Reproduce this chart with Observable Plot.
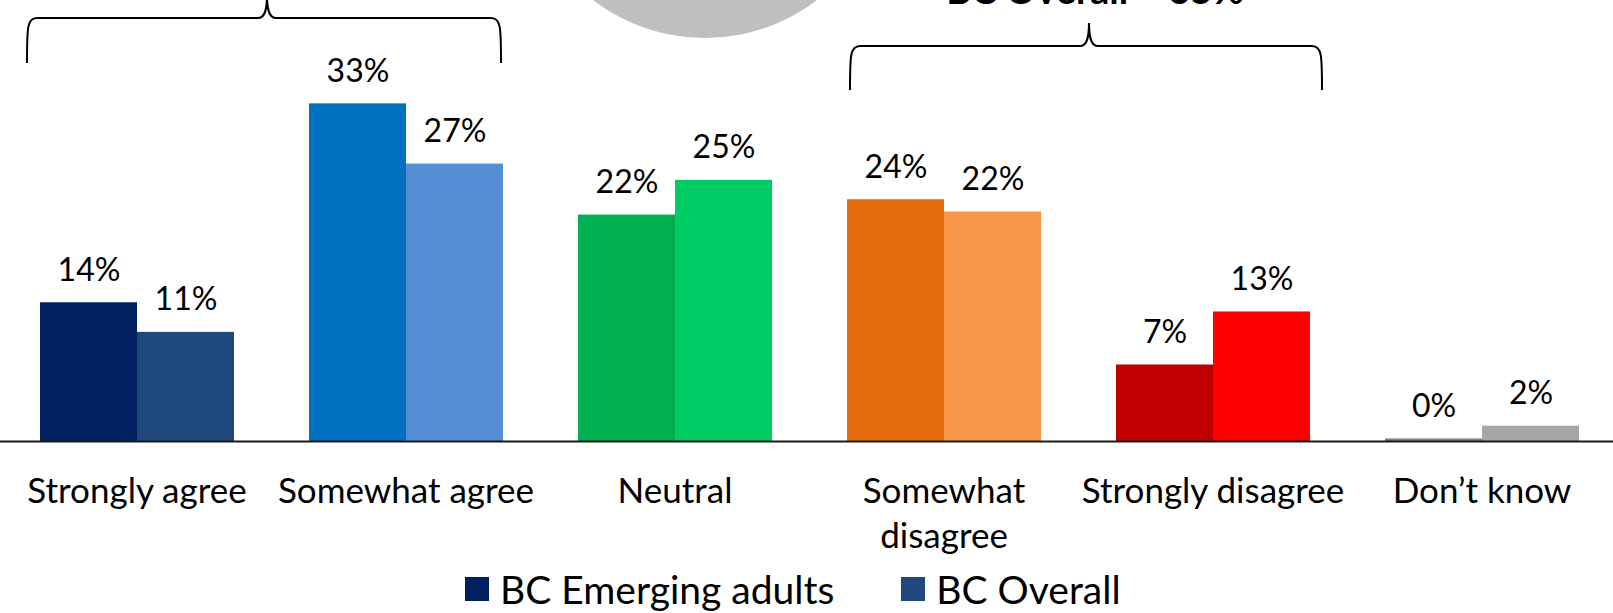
<!DOCTYPE html>
<html>
<head>
<meta charset="utf-8">
<script src="https://cdn.jsdelivr.net/npm/d3@7"></script>
<script src="https://cdn.jsdelivr.net/npm/@observablehq/plot@0.6"></script>
<style>
  html, body { margin: 0; padding: 0; background: #fff; overflow: hidden; }
  body { width: 1613px; height: 613px; font-family: Lato, "Open Sans", sans-serif; }
  #chart svg { display: block; overflow: visible; }
  #legend { height: 48px; display: flex; align-items: center; padding-left: 465px; font-size: 39px; color: #000; }
  .item { display: flex; align-items: center; }
  .sw { width: 24px; height: 24px; margin-right: 11px; }
</style>
</head>
<body>
<div id="chart"></div>
<div id="legend"></div>
<script>
// ---- data ----
const categories = ["Strongly agree", "Somewhat agree", "Neutral", "Somewhat disagree", "Strongly disagree", "Don’t know"];
const axisLabels = ["Strongly agree", "Somewhat agree", "Neutral", "Somewhat\ndisagree", "Strongly disagree", "Don’t know"];
const seriesNames = ["BC Emerging adults", "BC Overall"];
const emergingValues = [13.6, 33.1, 22.2, 23.7, 7.5, 0.25];
const overallValues  = [10.7, 27.2, 25.6, 22.5, 12.7, 1.5];
const emergingLabels = ["14%", "33%", "22%", "24%", "7%", "0%"];
const overallLabels  = ["11%", "27%", "25%", "22%", "13%", "2%"];
const emergingColors = ["#002060", "#0070C0", "#00B050", "#E46C0A", "#C00000", "#808080"];
const overallColors  = ["#1F497D", "#558ED5", "#00CC66", "#F79646", "#FF0000", "#A6A6A6"];
const legendColors = ["#002060", "#1F497D"];
const bracketNote = "BC Overall = 35%";

const rows = [];
categories.forEach((c, i) => {
  rows.push({category: c, series: seriesNames[0], value: emergingValues[i], label: emergingLabels[i], color: emergingColors[i]});
  rows.push({category: c, series: seriesNames[1], value: overallValues[i], label: overallLabels[i], color: overallColors[i]});
});
const axisLabelOf = new Map(categories.map((c, i) => [c, axisLabels[i]]));

const W = 1613, H = 565;
const plot = Plot.plot({
  width: W,
  height: H,
  marginLeft: 37,
  marginRight: 31,
  marginTop: 33,
  marginBottom: 124,
  style: {fontFamily: "Lato, 'Open Sans', sans-serif", color: "#000", background: "transparent", overflow: "visible"},
  fx: {domain: categories, paddingInner: 0.2735, paddingOuter: 0, label: null},
  x: {domain: seriesNames, padding: 0, axis: null},
  y: {domain: [0, 40], axis: null},
  color: {type: "identity"},
  marks: [
    Plot.barY(rows, {fx: "category", x: "series", y: "value", fill: "color"}),
    Plot.text(rows, {fx: "category", x: "series", y: "value", text: "label", dy: -22, lineAnchor: "bottom", fontSize: 32, fill: "#000"}),
    Plot.axisFx({anchor: "bottom", tickSize: 0, tickPadding: 29, fontSize: 35, lineHeight: 1.3, tickFormat: d => axisLabelOf.get(d), label: null})
  ]
});
document.getElementById("chart").appendChild(plot);

// ---- annotations: baseline, circle, braces, note ----
const fx = plot.scale("fx");
const y = plot.scale("y");
const bw = fx.bandwidth;
const svg = d3.select(plot);
const deco = svg.insert("g", ":first-child");
deco.append("circle").attr("cx", 705).attr("cy", -146).attr("r", 184).attr("fill", "#BFBFBF");

const y0 = y.apply(0);
svg.append("line").attr("x1", 0).attr("x2", W).attr("y1", y0 + 0.5).attr("y2", y0 + 0.5)
  .attr("stroke", "#1a1a1a").attr("stroke-width", 2);

function brace(x1, x2, ym, yb, tip) {
  const xc = (x1 + x2) / 2 + 3;
  const p = `M${x1},${yb} C${x1},${ym + 10} ${x1},${ym} ${x1 + 10},${ym} L${xc - 9},${ym} C${xc - 3},${ym} ${xc},${ym - 6} ${xc},${ym - tip} C${xc},${ym - 6} ${xc + 3},${ym} ${xc + 9},${ym} L${x2 - 10},${ym} C${x2},${ym} ${x2},${ym + 10} ${x2},${yb}`;
  svg.append("path").attr("d", p).attr("fill", "none").attr("stroke", "#000").attr("stroke-width", 2);
  return xc;
}
brace(fx.apply(categories[0]) - 12, fx.apply(categories[1]) + bw - 2, 18, 63, 23);
const xc2 = brace(fx.apply(categories[3]) + 4, fx.apply(categories[4]) + bw + 12, 46, 90, 23);
svg.append("text").attr("x", xc2 + 6).attr("y", 4).attr("text-anchor", "middle")
  .attr("font-size", 38).attr("font-weight", 700).attr("fill", "#000").text(bracketNote);

// ---- legend ----
const legend = d3.select("#legend");
seriesNames.forEach((s, i) => {
  const it = legend.append("div").attr("class", "item").style("margin-right", i === 0 ? "67px" : "0");
  it.append("div").attr("class", "sw").style("background", legendColors[i]);
  it.append("span").text(s);
});
</script>
</body>
</html>
